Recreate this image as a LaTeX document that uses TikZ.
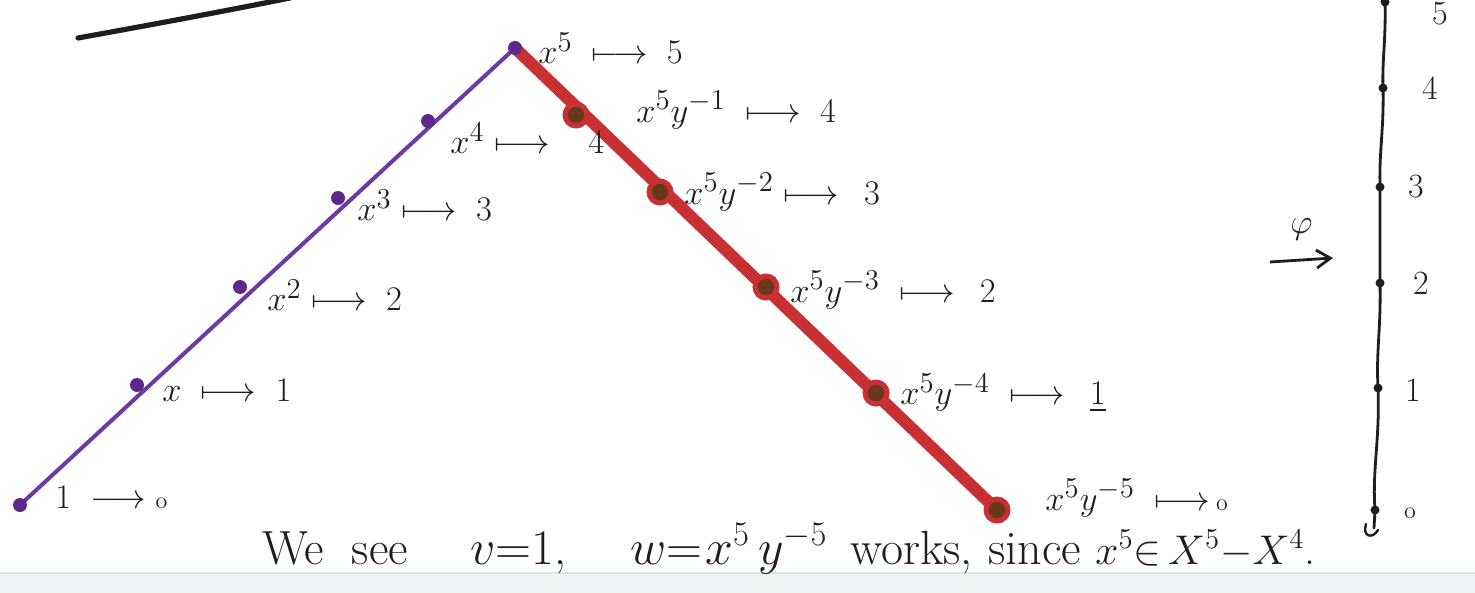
\documentclass[tikz,border=0pt]{standalone}
\usepackage{amsmath,amssymb}
\usetikzlibrary{arrows.meta}
\definecolor{purp}{RGB}{108,58,165}
\definecolor{purpdot}{RGB}{95,40,140}
\definecolor{redc}{RGB}{200,48,52}
\definecolor{browndot}{RGB}{105,55,30}
\definecolor{ink}{RGB}{30,30,30}
\definecolor{band}{RGB}{240,243,244}
\definecolor{bandline}{RGB}{218,228,230}
\begin{document}
\begin{tikzpicture}[x=0.5pt,y=-0.5pt,
  pline/.style={draw=purp,line width=2pt,line cap=round},
  rline/.style={draw=redc,line width=6pt,line cap=round},
  pdot/.style={circle,fill=purpdot,inner sep=0pt,minimum size=7pt},
  rdot/.style={circle,fill=browndot,draw=redc,line width=2.5pt,inner sep=0pt,minimum size=11pt},
  adot/.style={circle,fill=ink,inner sep=0pt,minimum size=4.5pt},
  lab/.style={text=ink,font=\fontsize{19}{22}\selectfont,anchor=west,inner sep=0pt},
  alab/.style={text=ink,font=\fontsize{17}{20}\selectfont,inner sep=0pt},
  btxt/.style={text=ink,font=\fontsize{24}{28}\selectfont,anchor=base west,inner sep=0pt},
  axis/.style={draw=ink,line width=1.4pt,line cap=round}]
\useasboundingbox (0,0) rectangle (1475,593);
% bottom page band
\fill[band] (0,573) rectangle (1475,593);
\draw[bandline,line width=1pt] (0,573) -- (1475,573);
% top-left stroke
\coordinate (s1) at (78,38);
\coordinate (s2) at (290,-2);
\draw[ink,line width=2.6pt,line cap=round] (s1) .. controls (150,25) and (220,12) .. (s2);
% vertices
\coordinate (P0) at (20,505);
\coordinate (P1) at (137,385);
\coordinate (P2) at (240,287);
\coordinate (P3) at (338,198);
\coordinate (P4) at (428,121);
\coordinate (P5) at (515,48);
\coordinate (R1) at (576,115);
\coordinate (R2) at (660,192);
\coordinate (R3) at (766,287);
\coordinate (R4) at (876,393);
\coordinate (R5) at (997,510);
\draw[pline] (P0) -- (P5);
\draw[rline] (P5) -- (R5);
\foreach \i in {0,...,5} \node[pdot] (p\i) at (P\i) {};
\foreach \i in {1,...,5} \node[rdot] (r\i) at (R\i) {};
% labels on the purple side
\node[lab] (l0) at (55,497) {$1\;\longrightarrow\;$\raisebox{0pt}{\fontsize{12}{14}\selectfont o}};
\node[lab] (l1) at (162,390) {$x\;\longmapsto\; 1$};
\node[lab] (l2) at (267,295) {$x^2\longmapsto\; 2$};
\node[lab] (l3) at (357,205) {$x^3\longmapsto\; 3$};
\node[lab] (l4) at (450,138) {$x^4\longmapsto\;\;\; 4$};
\node[lab] (l5) at (538,48) {$x^{5}\;\longmapsto\; 5$};
% labels on the red side
\node[lab] (m1) at (636,110) {$x^5y^{-1}\;\longmapsto\; 4$};
\node[lab] (m2) at (684,192) {$x^5y^{-2}\longmapsto\;\, 3$};
\node[lab] (m3) at (790,290) {$x^5y^{-3}\;\longmapsto\;\, 2$};
\node[lab] (m4) at (900,393) {$x^5y^{-4}\;\longmapsto\;\, \underline{1}$};
\node[lab] (m5) at (1045,498) {$x^5y^{-5}\;\longmapsto$\,\raisebox{0pt}{\fontsize{12}{14}\selectfont o}};
% map phi
\coordinate (fa) at (1270,262);
\coordinate (fb) at (1333,258);
\draw[ink,line width=1.4pt,-{Straight Barb[length=7pt,width=9pt]}] (fa) -- (fb)
  node[midway,above=6pt,text=ink,font=\fontsize{19}{22}\selectfont] (phi) {$\varphi$};
% axis
\coordinate (A5) at (1385,2);
\coordinate (A4) at (1383,88);
\coordinate (A3) at (1380,187);
\coordinate (A2) at (1380,283);
\coordinate (A1) at (1378,388);
\coordinate (A0) at (1375,510);
\coordinate (Ab) at (1374,528);
\coordinate (Atop) at (1386,-5);
\draw[axis] (Atop) -- (A5) .. controls (1386,40) and (1382,60) .. (A4)
  .. controls (1384,130) and (1379,150) .. (A3) -- (A2)
  .. controls (1381,330) and (1376,350) .. (A1)
  .. controls (1380,440) and (1372,470) .. (A0) -- (Ab);
\draw[axis,line width=1.2pt] (1366,524) .. controls (1362,536) and (1372,540) .. (1378,530);
\foreach \i in {0,...,5} \node[adot] (a\i) at (A\i) {};
\node[alab] (t5) at (1440,14) {5};
\node[alab] (t4) at (1430,88) {4};
\node[alab] (t3) at (1416,187) {3};
\node[alab] (t2) at (1421,283) {2};
\node[alab] (t1) at (1413,390) {1};
\node[alab] (t0) at (1410,513) {\fontsize{12}{14}\selectfont o};
% bottom sentence
\node[btxt] (b1) at (262,564) {We\; see};
\node[btxt] (b2) at (470,564) {$v{=}1$,};
\node[btxt] (b3) at (630,564) {$w{=}$};
\node[btxt] (b4) at (705,564) {$x^5\,y^{-5}$};
\node[btxt] (b5) at (850,564) {works,};
\node[btxt] (b6) at (988,564) {since};
\node[btxt,font=\fontsize{22}{26}\selectfont] (b7) at (1095,564) {$x^5{\in}\, X^5{-}X^4$.};
\end{tikzpicture}
\end{document}
